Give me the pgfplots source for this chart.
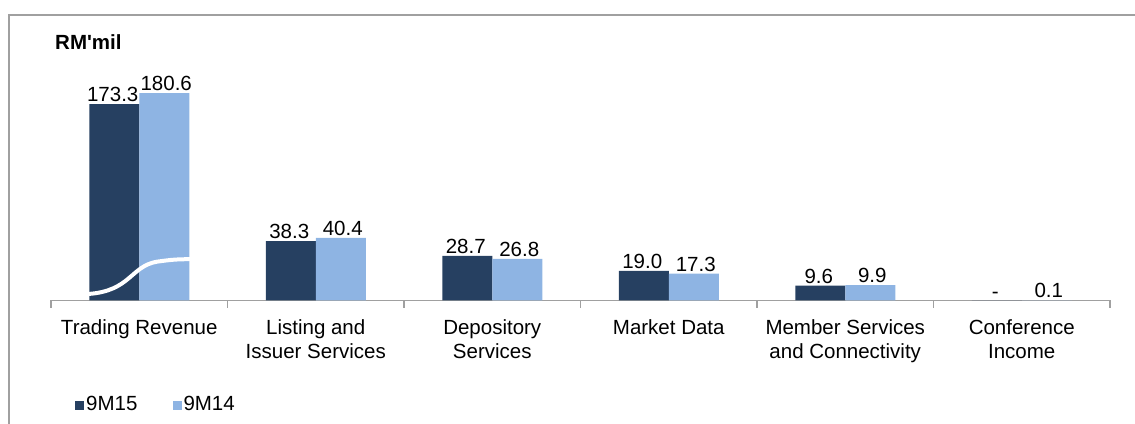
\documentclass[border=0pt]{standalone}
\usepackage{pgfplots}
\pgfplotsset{compat=1.18}
\usepackage{fontspec}
\setmainfont{Liberation Sans}[Ligatures=TeXOff]
\definecolor{darkbar}{RGB}{38,64,97}
\definecolor{lightbar}{RGB}{142,180,227}
\definecolor{framegray}{RGB}{160,160,160}
\begin{document}
\fontsize{20.5}{24}\selectfont
\begin{tikzpicture}[x=1pt,y=1pt]
\useasboundingbox (0,0) rectangle (1135,423);
\draw[framegray, line width=1.6pt] (9,-10) -- (9,408) -- (1145,408);
\node[anchor=west, font=\bfseries, inner sep=0pt] at (55,381) {RM'mil};
\begin{axis}[
  at={(51pt,122.5pt)}, anchor=south west,
  scale only axis, width=1059pt, height=217.4pt,
  xmin=-0.5, xmax=5.5, ymin=0, ymax=140,
  ybar=0pt, bar width=50pt,
  legend image code/.code={\fill[#1] (0pt,-4.5pt) rectangle (9pt,4.5pt);},
  clip=false,
  axis x line*=bottom, axis y line=none,
  axis line style={draw=framegray, line width=1.2pt},
  xtick={0,1,2,3,4,5},
  xticklabels={{Trading Revenue},{Listing and\\Issuer Services},{Depository\\Services},{Market Data},{Member Services\\and Connectivity},{Conference\\Income}},
  xticklabel style={align=center, font=\fontsize{20.5}{24}\selectfont, yshift=-12pt},
  major tick length=0pt,
  minor xtick={-0.5,0.5,1.5,2.5,3.5,4.5,5.5},
  minor tick length=7pt, tick align=outside,
  minor tick style={draw=framegray, line width=1.2pt},
  point meta=explicit symbolic,
  nodes near coords,
  every node near coord/.append style={font=\fontsize{20.5}{24}\selectfont, inner sep=2pt, text=black},
  legend style={at={(0.0227,-0.4807)}, anchor=west, draw=none, fill=none,
    legend columns=2, font=\fontsize{20.5}{24}\selectfont,
    /tikz/every even column/.append style={column sep=33pt},
    inner sep=0pt},
  legend cell align=left,
]
\addplot[fill=darkbar, draw=none, every node near coord/.append style={xshift=-1.5pt}] coordinates {
  (0,126.5) [173.3]
  (1,38.3) [38.3]
  (2,28.7) [28.7]
  (3,19.0) [19.0]
  (4,9.6) [9.6]
  (5,0) [-]
};
\addplot[fill=lightbar, draw=none, every node near coord/.append style={xshift=2pt}] coordinates {
  (0,133.6) [180.6]
  (1,40.4) [40.4]
  (2,26.8) [26.8]
  (3,17.3) [17.3]
  (4,9.9) [9.9]
  (5,0.1) [0.1]
};
\legend{9M15,9M14}
\draw[white, line width=4pt] (axis cs:-0.29,4.2) .. controls (axis cs:-0.05,6) and (axis cs:-0.05,22) .. (axis cs:0.10,25) .. controls (axis cs:0.2,26.5) .. (axis cs:0.33,26.7);
\end{axis}
\end{tikzpicture}
\end{document}
